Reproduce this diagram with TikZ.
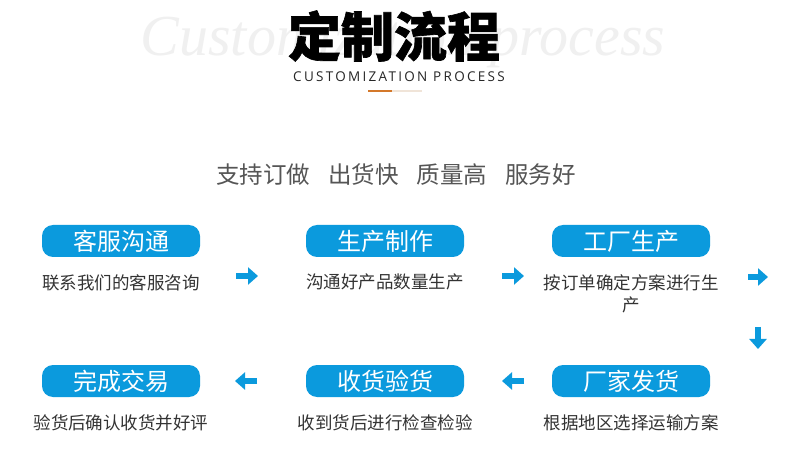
\documentclass[tikz,border=0pt]{standalone}
\usepackage{fontspec}
\usetikzlibrary{arrows.meta}
\newfontfamily\cjk{Noto Sans CJK SC}
\newfontfamily\cjktitle{Noto Sans CJK SC}[BoldFeatures={FakeBold=1.2}]
\newfontfamily\capsfont{Open Sans}[LetterSpace=17]
\newfontfamily\bgfont{Liberation Serif}
\definecolor{pillblue}{HTML}{0B9ADD}
\definecolor{descgray}{HTML}{333333}
\definecolor{slogangray}{HTML}{555555}
\definecolor{lineorange}{HTML}{D4782A}
\definecolor{linebeige}{HTML}{F0E4D8}
\tikzset{pill/.style={fill=pillblue, rounded corners=11pt, minimum width=158pt, minimum height=32pt, inner sep=0pt, text=white, font=\cjk\fontsize{24}{24}\selectfont}}
\tikzset{desc/.style={text=descgray, align=center, inner sep=0pt, font=\cjk\fontsize{17.5}{22}\selectfont}}
\tikzset{blockarrow/.style={line width=6pt, draw=pillblue, -{Triangle[length=10pt,width=17pt]}}}

\begin{document}
\begin{tikzpicture}[x=1pt,y=-1pt]
                    \useasboundingbox[fill=white] (0,0) rectangle (790,454);
                    % heading
                    \node[text=black!6, font=\bgfont\itshape\fontsize{58}{58}\selectfont] (bg) at (403,42) {Customization process};
                    \node[font=\cjktitle\bfseries\fontsize{53}{53}\selectfont] (title) at (394,36) {定制流程};
                    \node[text=black!85, font=\capsfont\fontsize{13.5}{14}\selectfont] (sub) at (399,77) {CUSTOMIZATION PROCESS};
                    \coordinate (u1) at (368,91);
                    \coordinate (u2) at (392,91);
                    \coordinate (u3) at (422,91);
                    \draw[linebeige, line width=2pt] (u2) -- (u3);
                    \draw[lineorange, line width=2pt] (u1) -- (u2);
                    \node[text=slogangray, font=\cjk\fontsize{23.5}{24}\selectfont] (slogan) at (396,175)
                        {支持订做\hspace{18pt}出货快\hspace{18pt}质量高\hspace{18pt}服务好};
                    % steps
                    \foreach \t/\d/\x/\y[count=\n] in {客服沟通/联系我们的客服咨询/121/241,
                            生产制作/沟通好产品数量生产/385/241,
                            工厂生产/按订单确定方案进行生\\产/631/241,
                            完成交易/验货后确认收货并好评/121/381,
                            收货验货/收到货后进行检查检验/385/381,
                            厂家发货/根据地区选择运输方案/631/381}{
                        \node[pill] (p\n) at (\x,\y) {\t};
                        \node[desc, anchor=north] (d\n) at (\x,\y+33) {\d};
                        }
                    % arrows
                    \foreach \c/\x/\y in {a1/236/276, b1/258/276, a2/502/276, b2/524/276,
                            a3/748/277, b3/768/277, a4/758/327, b4/758/349,
                            a5/524/381, b5/502/381, a6/257/381, b6/235/381}{
                        \coordinate (\c) at (\x,\y);
                        }
                    \foreach \i in {1,...,6}{
                        \draw[blockarrow] (a\i) -- (b\i);
                        }
                \end{tikzpicture}
\end{document}
